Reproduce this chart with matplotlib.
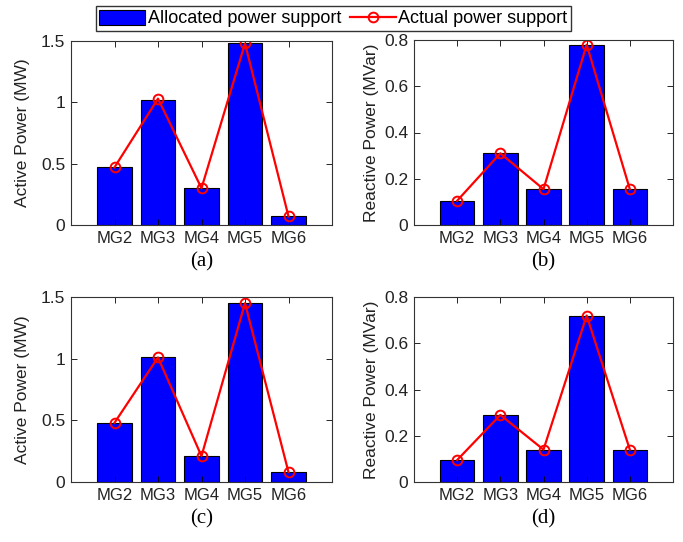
import matplotlib.pyplot as plt
import numpy as np

plt.rcParams['font.family'] = ['Liberation Sans', 'DejaVu Sans']

mgs = ['MG2', 'MG3', 'MG4', 'MG5', 'MG6']

# case 1
p_alloc_1 = [0.47, 1.02, 0.30, 1.48, 0.07]
p_actual_1 = [0.47, 1.03, 0.30, 1.48, 0.07]
q_alloc_1 = [0.105, 0.31, 0.155, 0.78, 0.155]
q_actual_1 = [0.105, 0.31, 0.155, 0.78, 0.155]

# case 2
p_alloc_2 = [0.48, 1.01, 0.21, 1.45, 0.08]
p_actual_2 = [0.48, 1.01, 0.21, 1.45, 0.08]
q_alloc_2 = [0.095, 0.29, 0.14, 0.72, 0.14]
q_actual_2 = [0.095, 0.29, 0.14, 0.72, 0.14]

fig = plt.figure(figsize=(6.83, 5.42), dpi=100)
W, H = 683, 542

def add_ax(left, top, right, bottom):
    return fig.add_axes([left / W, 1 - bottom / H, (right - left) / W, (bottom - top) / H])

p_ticks = [0, 0.5, 1, 1.5]
p_tlabels = ['0', '0.5', '1', '1.5']
q_ticks = [0, 0.2, 0.4, 0.6, 0.8]
q_tlabels = ['0', '0.2', '0.4', '0.6', '0.8']

panels = [
    (add_ax(71, 41, 332, 225), p_alloc_1, p_actual_1, 'Active Power (MW)', 1.5, p_ticks, p_tlabels, 8, '(a)'),
    (add_ax(414, 40, 673, 225), q_alloc_1, q_actual_1, 'Reactive Power (MVar)', 0.8, q_ticks, q_tlabels, 4, '(b)'),
    (add_ax(71, 297, 332, 482), p_alloc_2, p_actual_2, 'Active Power (MW)', 1.5, p_ticks, p_tlabels, 8, '(c)'),
    (add_ax(414, 297, 673, 482), q_alloc_2, q_actual_2, 'Reactive Power (MVar)', 0.8, q_ticks, q_tlabels, 4, '(d)'),
]

x = np.arange(1, len(mgs) + 1)
for ax, alloc, actual, ylab, ymax, yt, ytl, lpad, tag in panels:
    bars = ax.bar(x, alloc, width=0.8, color='#0000FF', edgecolor='black', linewidth=0.8)
    line, = ax.plot(x, actual, color='red', lw=1.6, marker='o', ms=7, mfc='none', mec='red', mew=1.4)
    ax.set_xlim(0, 6)
    ax.set_ylim(0, ymax)
    ax.set_xticks(x)
    ax.set_xticklabels(mgs, fontsize=12, color='#222222')
    ax.set_yticks(yt)
    ax.set_yticklabels(ytl, fontsize=12.5, color='#222222')
    ax.tick_params(direction='in', top=True, right=True, length=4, width=0.6, pad=4)
    ax.set_ylabel(ylab, fontsize=12.5, color='#222222', labelpad=lpad)
    for s in ax.spines.values():
        s.set_linewidth(0.8)
        s.set_color('#333333')
    ax.text(0.5, -0.2, tag, transform=ax.transAxes, ha='center', va='center',
            fontsize=15, family='Liberation Serif')

fig.legend([bars, line], ['Allocated power support', 'Actual power support'],
           loc='center', bbox_to_anchor=(333.5 / W, 1 - 18.5 / H), ncol=2, fontsize=13,
           frameon=True, fancybox=False, edgecolor='#333333', framealpha=1,
           handlelength=2.55, handleheight=0.95, handletextpad=0.15,
           columnspacing=0.45, borderpad=0.2, borderaxespad=0)

fig.savefig('out.png', dpi=100)
